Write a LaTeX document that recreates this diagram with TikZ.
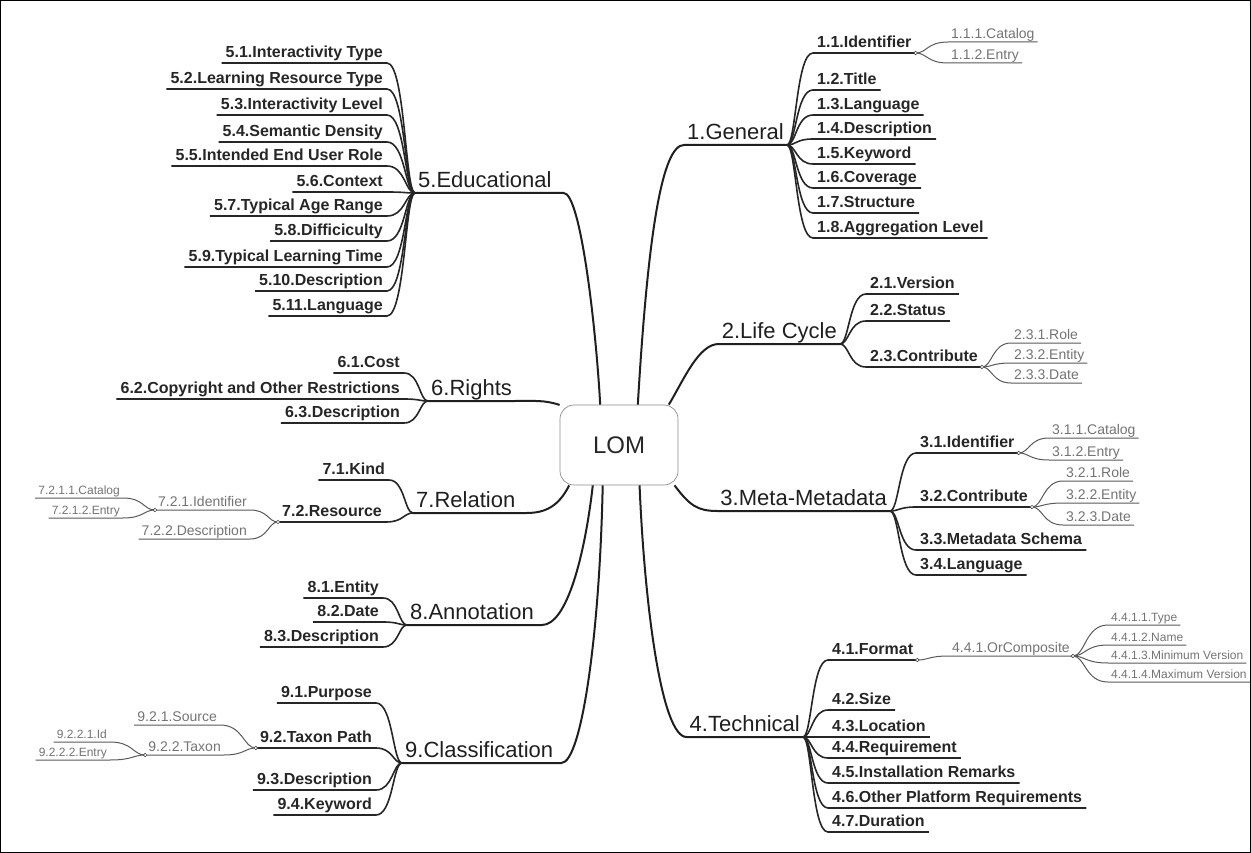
\documentclass[tikz,border=0pt]{standalone}
\usepackage{fontspec}
\setmainfont{Liberation Sans}
\usetikzlibrary{calc}
\tikzset{
  kc/.style={to path={let \p1=(\tikztostart),\p2=(\tikztotarget),\n1={\x2-\x1} in .. controls +({0.35*(\n1)},0) and +({-0.65*(\n1)},0) .. (\tikztotarget)}},
  main/.style={font=\fontsize{22}{24}\selectfont, text=black!88, text height=16pt, text depth=4pt, inner xsep=3pt, inner ysep=1pt},
  sub/.style={font=\fontsize{16}{18}\selectfont\bfseries, text=black!85, text height=12pt, text depth=4pt, inner xsep=4pt, inner ysep=1pt},
  tinyA/.style={font=\fontsize{14}{16}\selectfont, text=black!55, text height=10pt, text depth=3pt, inner xsep=3pt, inner ysep=0.5pt},
  tinyB/.style={font=\fontsize{12}{14}\selectfont, text=black!55, text height=9pt, text depth=2.5pt, inner xsep=3pt, inner ysep=0.5pt},
  mline/.style={line width=2pt, draw=black!88},
  sline/.style={line width=1.6pt, draw=black!85},
  tline/.style={line width=1pt, draw=black!65},
  hubdot/.style={circle, draw=black!70, fill=white, line width=0.6pt, inner sep=0pt, minimum size=3.6pt},
  lombox/.style={draw=black!45, line width=0.7pt, rounded corners=14pt, minimum width=118pt, minimum height=80pt, font=\fontsize{24}{26}\selectfont, text=black!85}
}
\newcommand\kidR[6]{%
  \node[#1,anchor=south west] (#4) at (#5) {#6};
  \draw[#2] (#3) to[kc] (#4.south west) -- (#4.south east);}
\newcommand\kidL[6]{%
  \node[#1,anchor=south east] (#4) at (#5) {#6};
  \draw[#2] (#3) to[kc] (#4.south east) -- (#4.south west);}
\begin{document}
\begin{tikzpicture}[x=1pt,y=-1pt]
\useasboundingbox (0,0) rectangle (1251,853);
\draw[line width=1pt] (0.5,0.5) rectangle (1250.5,852.5);

\node[lombox] (lom) at (619,445) {LOM};

% ---------- main branches ----------
\node[main,anchor=south east] (m1) at (787,145) {1.General};
\draw[mline] (lom.65) .. controls +(10,-170) and +(-22,0) .. (m1.south west) -- (m1.south east);
\node[main,anchor=south east] (m2) at (840,344) {2.Life Cycle};
\draw[mline] (lom.39) .. controls +(15,-25) and +(-20,0) .. (m2.south west) -- (m2.south east);
\node[main,anchor=south east] (m3) at (890,511) {3.Meta-Metadata};
\draw[mline] (lom.324) .. controls +(15,20) and +(-20,0) .. (m3.south west) -- (m3.south east);
\node[main,anchor=south east] (m4) at (803,737) {4.Technical};
\draw[mline] (lom.297) .. controls +(5,120) and +(-25,0) .. (m4.south west) -- (m4.south east);

\node[main,anchor=south west] (m5) at (415,193) {5.Educational};
\draw[mline] (lom.115) .. controls +(-4,-75) and +(17,0) .. ([xshift=9pt]m5.south east) -- (m5.south west);
\node[main,anchor=south west] (m6) at (428,401) {6.Rights};
\draw[mline] (lom.146) .. controls +(-15,-5) and +(20,0) .. (m6.south east) -- (m6.south west);
\node[main,anchor=south west] (m7) at (413,513) {7.Relation};
\draw[mline] (lom.219) .. controls +(-10,20) and +(20,0) .. ([xshift=8pt]m7.south east) -- (m7.south west);
\node[main,anchor=south west] (m8) at (407,625) {8.Annotation};
\draw[mline] (lom.237) .. controls +(-8,70) and +(25,0) .. ([xshift=5pt]m8.south east) -- (m8.south west);
\node[main,anchor=south west] (m9) at (402,763) {9.Classification};
\draw[mline] (lom.248) .. controls +(-3,150) and +(20,0) .. ([xshift=5pt]m9.south east) -- (m9.south west);

% ---------- 1.General ----------
\kidR{sub}{sline}{m1.south east}{n11}{813,53}{1.1.Identifier}
\kidR{sub}{sline}{m1.south east}{n12}{813,90}{1.2.Title}
\kidR{sub}{sline}{m1.south east}{n13}{813,115}{1.3.Language}
\kidR{sub}{sline}{m1.south east}{n14}{813,139}{1.4.Description}
\kidR{sub}{sline}{m1.south east}{n15}{813,164}{1.5.Keyword}
\kidR{sub}{sline}{m1.south east}{n16}{813,188}{1.6.Coverage}
\kidR{sub}{sline}{m1.south east}{n17}{813,213}{1.7.Structure}
\kidR{sub}{sline}{m1.south east}{n18}{813,238}{1.8.Aggregation Level}
\kidR{tinyA}{tline}{n11.south east}{n111}{948,42}{1.1.1.Catalog}
\kidR{tinyA}{tline}{n11.south east}{n112}{948,63}{1.1.2.Entry}

% ---------- 2.Life Cycle ----------
\kidR{sub}{sline}{m2.south east}{n21}{866,294}{2.1.Version}
\kidR{sub}{sline}{m2.south east}{n22}{866,321}{2.2.Status}
\kidR{sub}{sline}{m2.south east}{n23}{866,367}{2.3.Contribute}
\kidR{tinyA}{tline}{n23.south east}{n231}{1011,343}{2.3.1.Role}
\kidR{tinyA}{tline}{n23.south east}{n232}{1011,363}{2.3.2.Entity}
\kidR{tinyA}{tline}{n23.south east}{n233}{1011,383}{2.3.3.Date}

% ---------- 3.Meta-Metadata ----------
\kidR{sub}{sline}{m3.south east}{n31}{916,453}{3.1.Identifier}
\kidR{sub}{sline}{m3.south east}{n32}{916,507}{3.2.Contribute}
\kidR{sub}{sline}{m3.south east}{n33}{916,550}{3.3.Metadata Schema}
\kidR{sub}{sline}{m3.south east}{n34}{916,575}{3.4.Language}
\kidR{tinyA}{tline}{n31.south east}{n311}{1049,438}{3.1.1.Catalog}
\kidR{tinyA}{tline}{n31.south east}{n312}{1049,460}{3.1.2.Entry}
\kidR{tinyA}{tline}{n32.south east}{n321}{1063,481}{3.2.1.Role}
\kidR{tinyA}{tline}{n32.south east}{n322}{1063,503}{3.2.2.Entity}
\kidR{tinyA}{tline}{n32.south east}{n323}{1063,525}{3.2.3.Date}

% ---------- 4.Technical ----------
\kidR{sub}{sline}{m4.south east}{n41}{828,660}{4.1.Format}
\kidR{sub}{sline}{m4.south east}{n42}{828,710}{4.2.Size}
\kidR{sub}{sline}{m4.south east}{n43}{828,737}{4.3.Location}
\kidR{sub}{sline}{m4.south east}{n44}{828,758}{4.4.Requirement}
\kidR{sub}{sline}{m4.south east}{n45}{828,783}{4.5.Installation Remarks}
\kidR{sub}{sline}{m4.south east}{n46}{828,808}{4.6.Other Platform Requirements}
\kidR{sub}{sline}{m4.south east}{n47}{828,832}{4.7.Duration}
\kidR{tinyA}{tline}{n41.south east}{n441}{949,656}{4.4.1.OrComposite}
\kidR{tinyB}{tline}{n441.south east}{n4411}{1108,625}{4.4.1.1.Type}
\kidR{tinyB}{tline}{n441.south east}{n4412}{1108,645}{4.4.1.2.Name}
\kidR{tinyB}{tline}{n441.south east}{n4413}{1108,663}{4.4.1.3.Minimum Version}
\kidR{tinyB}{tline}{n441.south east}{n4414}{1108,682}{4.4.1.4.Maximum Version}

% ---------- 5.Educational ----------
\kidL{sub}{sline}{m5.south west}{n51}{387,63}{5.1.Interactivity Type}
\kidL{sub}{sline}{m5.south west}{n52}{387,89}{5.2.Learning Resource Type}
\kidL{sub}{sline}{m5.south west}{n53}{387,115}{5.3.Interactivity Level}
\kidL{sub}{sline}{m5.south west}{n54}{387,142}{5.4.Semantic Density}
\kidL{sub}{sline}{m5.south west}{n55}{387,166}{5.5.Intended End User Role}
\kidL{sub}{sline}{m5.south west}{n56}{387,192}{5.6.Context}
\kidL{sub}{sline}{m5.south west}{n57}{387,216}{5.7.Typical Age Range}
\kidL{sub}{sline}{m5.south west}{n58}{387,241}{5.8.Difficiculty}
\kidL{sub}{sline}{m5.south west}{n59}{387,267}{5.9.Typical Learning Time}
\kidL{sub}{sline}{m5.south west}{n510}{387,291}{5.10.Description}
\kidL{sub}{sline}{m5.south west}{n511}{387,316}{5.11.Language}

% ---------- 6.Rights ----------
\kidL{sub}{sline}{m6.south west}{n61}{404,373}{6.1.Cost}
\kidL{sub}{sline}{m6.south west}{n62}{404,399}{6.2.Copyright and Other Restrictions}
\kidL{sub}{sline}{m6.south west}{n63}{404,423}{6.3.Description}

% ---------- 7.Relation ----------
\kidL{sub}{sline}{m7.south west}{n71}{389,480}{7.1.Kind}
\kidL{sub}{sline}{m7.south west}{n72}{386,522}{7.2.Resource}
\kidL{tinyA}{tline}{n72.south west}{n721}{250,510}{7.2.1.Identifier}
\kidL{tinyA}{tline}{n72.south west}{n722}{250,539}{7.2.2.Description}
\kidL{tinyB}{tline}{n721.south west}{n7211}{123,498}{7.2.1.1.Catalog}
\kidL{tinyB}{tline}{n721.south west}{n7212}{123,518}{7.2.1.2.Entry}

% ---------- 8.Annotation ----------
\kidL{sub}{sline}{m8.south west}{n81}{383,598}{8.1.Entity}
\kidL{sub}{sline}{m8.south west}{n82}{383,622}{8.2.Date}
\kidL{sub}{sline}{m8.south west}{n83}{383,647}{8.3.Description}

% ---------- 9.Classification ----------
\kidL{sub}{sline}{m9.south west}{n91}{376,703}{9.1.Purpose}
\kidL{sub}{sline}{m9.south west}{n92}{376,748}{9.2.Taxon Path}
\kidL{sub}{sline}{m9.south west}{n93}{376,790}{9.3.Description}
\kidL{sub}{sline}{m9.south west}{n94}{376,815}{9.4.Keyword}
\kidL{tinyA}{tline}{n92.south west}{n921}{220,725}{9.2.1.Source}
\kidL{tinyA}{tline}{n92.south west}{n922}{224,755}{9.2.2.Taxon}
\kidL{tinyB}{tline}{n922.south west}{n9221}{110,742}{9.2.2.1.Id}
\kidL{tinyB}{tline}{n922.south west}{n9222}{110,760}{9.2.2.2.Entry}

% ---------- hub dots ----------
\node[hubdot] (d11) at (n11.south east) {};
\node[hubdot] (d23) at (n23.south east) {};
\node[hubdot] (d31) at (n31.south east) {};
\node[hubdot] (d32) at (n32.south east) {};
\node[hubdot] (d41) at (n41.south east) {};
\node[hubdot] (d441) at (n441.south east) {};
\node[hubdot] (d72) at (n72.south west) {};
\node[hubdot] (d721) at (n721.south west) {};
\node[hubdot] (d92) at (n92.south west) {};
\node[hubdot] (d922) at (n922.south west) {};
\end{tikzpicture}
\end{document}
